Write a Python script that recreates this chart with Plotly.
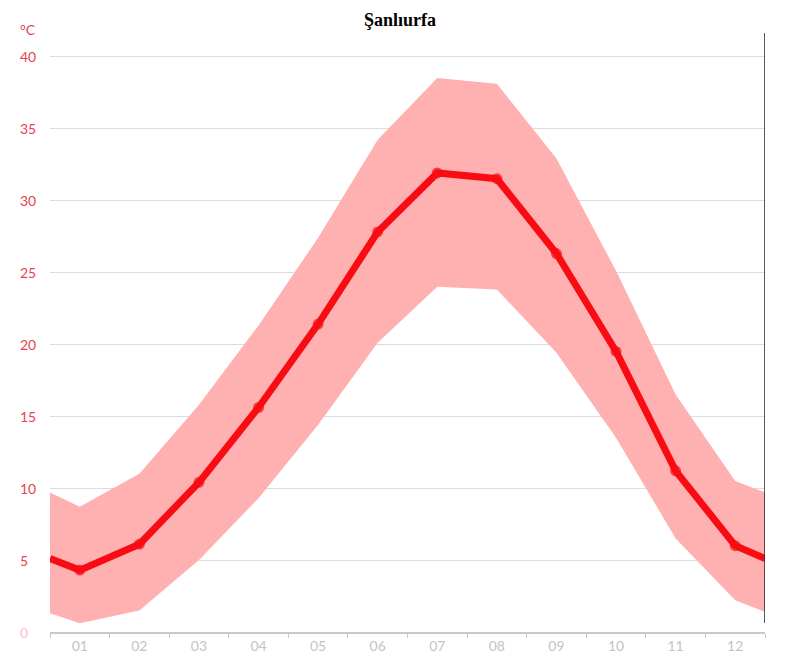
import plotly.graph_objects as go

# Month positions: half-month padding at both ends (wrap-around values)
month_pos = [0.5, 1, 2, 3, 4, 5, 6, 7, 8, 9, 10, 11, 12, 12.5]
month_labels = ["01", "02", "03", "04", "05", "06", "07", "08", "09", "10", "11", "12"]
month_ticks = [1, 2, 3, 4, 5, 6, 7, 8, 9, 10, 11, 12]

temp_mean = [5.1, 4.3, 6.1, 10.4, 15.6, 21.4, 27.8, 31.9, 31.5, 26.3, 19.5, 11.2, 6.0, 5.1]
temp_max = [9.7, 8.7, 11.0, 15.8, 21.3, 27.4, 34.2, 38.5, 38.1, 32.9, 25.1, 16.5, 10.5, 9.7]
temp_min = [1.3, 0.6, 1.5, 5.0, 9.3, 14.4, 20.1, 24.0, 23.8, 19.4, 13.5, 6.5, 2.2, 1.4]

y_ticks = [0, 5, 10, 15, 20, 25, 30, 35, 40]
y_tick_labels = ["0", "5", "10", "15", "20", "25", "30", "35", "40"]

RED = "#f90b14"
BAND = "#ffb1b1"
LABEL_RED = "#e5434f"
FONT = "Lato, Open Sans, sans-serif"

fig = go.Figure()
fig.add_trace(go.Scatter(x=month_pos, y=temp_min, mode="lines",
                         line=dict(width=0, color=BAND), hoverinfo="skip", showlegend=False))
fig.add_trace(go.Scatter(x=month_pos, y=temp_max, mode="lines", fill="tonexty",
                         fillcolor=BAND, line=dict(width=0, color=BAND),
                         hoverinfo="skip", showlegend=False))
marker_sizes = [0] + [11] * 12 + [0]
fig.add_trace(go.Scatter(x=month_pos, y=temp_mean, mode="lines+markers",
                         line=dict(width=7, color=RED),
                         marker=dict(size=marker_sizes, color=RED, line=dict(width=0)),
                         showlegend=False))

W, H = 800, 665
left, right, top, bottom = 50, 35, 42, 33
plot_h = H - top - bottom

# y tick labels as left-aligned annotations
annotations = []
for v, t in zip(y_ticks, y_tick_labels):
    annotations.append(dict(
        x=(18 - left) / (W - left - right), xref="paper", xanchor="left",
        y=v, yref="y", yanchor="middle", text=t, showarrow=False,
        font=dict(family=FONT, size=14,
                  color="#f5c3c6" if v == 0 else LABEL_RED)))
annotations.append(dict(
    x=(18 - left) / (W - left - right), xref="paper", xanchor="left",
    y=(632 - 29) / plot_h, yref="paper", yanchor="middle", text="°C", showarrow=False,
    font=dict(family=FONT, size=14, color=LABEL_RED)))

fig.update_layout(
    width=W, height=H,
    margin=dict(l=left, r=right, t=top, b=bottom, pad=0),
    paper_bgcolor="white", plot_bgcolor="white",
    title=dict(text="<b>Şanlıurfa</b>", x=0.5, xanchor="center", y=1 - 20 / H,
               yanchor="middle", yref="container",
               font=dict(family="Liberation Serif, Times New Roman, serif", size=18, color="black")),
    xaxis=dict(range=[0.5, 12.5], tickvals=month_ticks, ticktext=month_labels,
               showgrid=False, zeroline=False, showline=True, linecolor="#c8c8c8", linewidth=1.5,
               ticks="", tickfont=dict(family=FONT, size=14, color="#c4c4c4"),
               minor=dict(tick0=0.5, dtick=1, ticks="outside", ticklen=4, tickcolor="#c8c8c8",
                          showgrid=False),
               fixedrange=True),
    yaxis=dict(range=[0, 41], tickvals=y_ticks[1:], showticklabels=False, showgrid=True,
               gridcolor="#dcdcdc", gridwidth=1, zeroline=False, showline=False, ticks="",
               fixedrange=True),
    annotations=annotations,
    shapes=[dict(type="line", xref="x", x0=12.5, x1=12.5, yref="paper",
                 y0=(632 - 623) / plot_h, y1=(632 - 33) / plot_h,
                 line=dict(color="#222222", width=1.5), layer="above")],
)

fig.write_html("out.html")
